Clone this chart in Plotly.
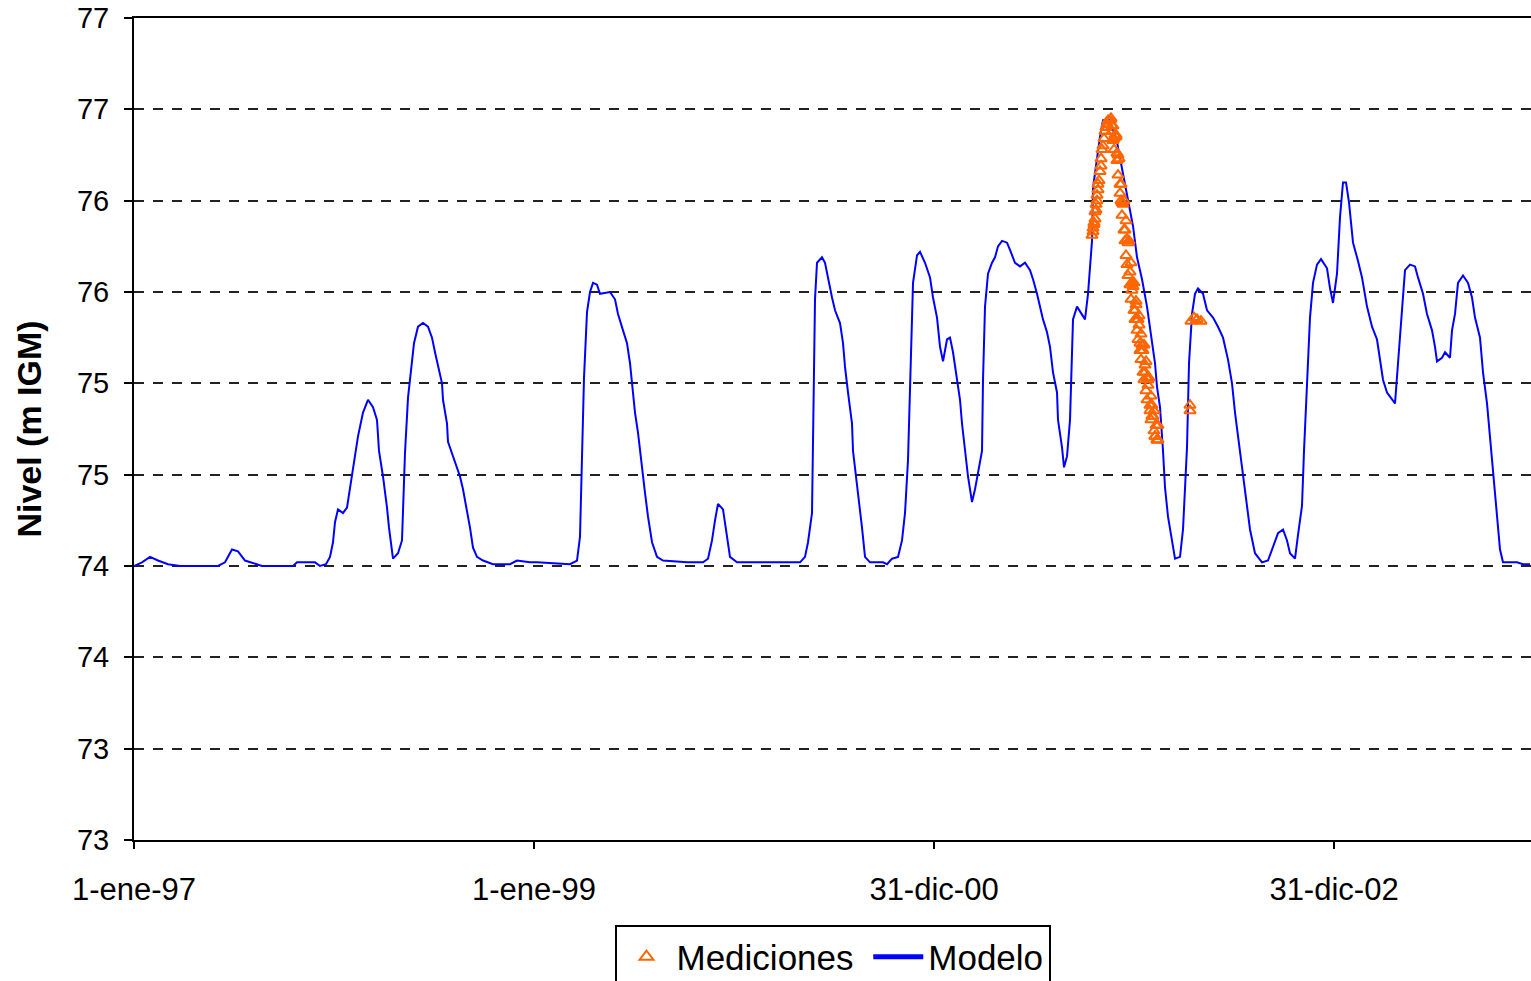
import datetime as dt
import plotly.graph_objects as go

# ---------------- data ----------------
START = dt.datetime(1997, 1, 1)

# Modelo: time in years (365-day years) since 1-ene-97, level in m IGM
model_t = [
    0.000, 0.04, 0.08, 0.12, 0.17, 0.23, 0.42, 0.455, 0.49, 0.52, 0.555, 0.605, 0.64, 0.795, 0.815,
    0.905, 0.93, 0.96, 0.98, 0.995, 1.005, 1.02, 1.045, 1.065, 1.08, 1.095, 1.12, 1.145, 1.17, 1.195,
    1.215, 1.225, 1.245, 1.265, 1.275, 1.295, 1.32, 1.34, 1.345, 1.355, 1.37, 1.39, 1.40, 1.42, 1.445,
    1.47, 1.49, 1.505, 1.52, 1.54, 1.545, 1.565, 1.57, 1.59, 1.615, 1.63, 1.645, 1.665, 1.68, 1.695,
    1.715, 1.745, 1.795, 1.88, 1.915, 1.98, 2.015, 2.18, 2.215, 2.23, 2.24, 2.25, 2.265, 2.28, 2.295,
    2.315, 2.33, 2.38, 2.405, 2.42, 2.445, 2.465, 2.48, 2.49, 2.505, 2.52, 2.54, 2.555, 2.57, 2.59,
    2.615, 2.645, 2.765, 2.845, 2.87, 2.89, 2.905, 2.92, 2.945, 2.965, 2.98, 3.015, 3.065, 3.33, 3.355,
    3.37, 3.39, 3.395, 3.405, 3.415, 3.44, 3.455, 3.47, 3.49, 3.505, 3.53, 3.545, 3.555, 3.57, 3.59,
    3.595, 3.615, 3.63, 3.64, 3.655, 3.68, 3.745, 3.765, 3.79, 3.82, 3.84, 3.855, 3.87, 3.885, 3.895,
    3.915, 3.93, 3.955, 3.98, 3.995, 4.015, 4.03, 4.045, 4.065, 4.08, 4.095, 4.115, 4.13, 4.14, 4.155,
    4.17, 4.19, 4.205, 4.22, 4.24, 4.245, 4.255, 4.27, 4.29, 4.305, 4.32, 4.34, 4.365, 4.38, 4.405,
    4.43, 4.455, 4.48, 4.495, 4.515, 4.53, 4.545, 4.565, 4.58, 4.595, 4.615, 4.62, 4.64, 4.65, 4.665,
    4.68, 4.69, 4.695, 4.715, 4.74, 4.755, 4.77, 4.79, 4.795, 4.815, 4.83, 4.845, 4.88, 4.915, 4.945,
    4.97, 4.995, 5.015, 5.04, 5.065, 5.08, 5.105, 5.115, 5.13, 5.145, 5.155, 5.17, 5.19, 5.205, 5.23,
    5.245, 5.265, 5.275, 5.29, 5.305, 5.32, 5.345, 5.365, 5.395, 5.42, 5.445, 5.47, 5.49, 5.505, 5.52,
    5.54, 5.565, 5.58, 5.605, 5.64, 5.67, 5.695, 5.72, 5.745, 5.765, 5.78, 5.805, 5.82, 5.84, 5.85,
    5.865, 5.88, 5.895, 5.915, 5.935, 5.965, 5.98, 5.995, 6.015, 6.03, 6.045, 6.06, 6.075, 6.095, 6.12,
    6.14, 6.165, 6.19, 6.215, 6.23, 6.245, 6.265, 6.305, 6.32, 6.34, 6.355, 6.38, 6.405, 6.42, 6.445,
    6.465, 6.49, 6.505, 6.515, 6.54, 6.555, 6.58, 6.59, 6.605, 6.62, 6.645, 6.67, 6.69, 6.705, 6.73,
    6.745, 6.765, 6.78, 6.795, 6.81, 6.82, 6.83, 6.845, 6.915, 6.945, 6.98,
]
model_level = [
    74.50, 74.52, 74.55, 74.53, 74.51, 74.50, 74.50, 74.52, 74.59, 74.58, 74.53, 74.51, 74.50, 74.50, 74.52,
    74.52, 74.50, 74.51, 74.55, 74.63, 74.74, 74.81, 74.79, 74.82, 74.92, 75.03, 75.21, 75.34, 75.41, 75.37,
    75.30, 75.13, 74.99, 74.82, 74.71, 74.54, 74.57, 74.64, 74.82, 75.12, 75.42, 75.63, 75.72, 75.81, 75.83,
    75.81, 75.75, 75.67, 75.59, 75.50, 75.41, 75.28, 75.18, 75.12, 75.04, 74.99, 74.92, 74.81, 74.71, 74.60,
    74.55, 74.53, 74.51, 74.51, 74.53, 74.52, 74.52, 74.51, 74.53, 74.66, 75.03, 75.53, 75.89, 76.00, 76.05,
    76.04, 75.99, 76.00, 75.96, 75.88, 75.79, 75.72, 75.61, 75.50, 75.34, 75.23, 75.06, 74.90, 74.77, 74.63,
    74.55, 74.53, 74.52, 74.52, 74.54, 74.64, 74.75, 74.84, 74.81, 74.66, 74.55, 74.52, 74.52, 74.52, 74.55,
    74.63, 74.79, 75.28, 75.96, 76.16, 76.19, 76.16, 76.07, 75.97, 75.90, 75.83, 75.72, 75.59, 75.45, 75.28,
    75.13, 74.95, 74.82, 74.71, 74.55, 74.52, 74.52, 74.51, 74.54, 74.55, 74.64, 74.79, 75.08, 75.62, 76.05,
    76.20, 76.22, 76.16, 76.08, 75.97, 75.86, 75.70, 75.62, 75.74, 75.75, 75.67, 75.53, 75.41, 75.28, 75.13,
    74.99, 74.85, 74.92, 75.01, 75.13, 75.52, 75.92, 76.10, 76.16, 76.19, 76.25, 76.28, 76.27, 76.23, 76.16,
    76.14, 76.16, 76.12, 76.07, 75.99, 75.92, 75.85, 75.78, 75.70, 75.56, 75.45, 75.30, 75.15, 75.04, 75.10,
    75.30, 75.61, 75.85, 75.92, 75.88, 75.85, 75.99, 76.28, 76.57, 76.74, 76.85, 76.94, 76.94, 76.82, 76.65,
    76.52, 76.36, 76.19, 76.07, 75.92, 75.81, 75.61, 75.48, 75.37, 75.13, 74.93, 74.77, 74.63, 74.54, 74.55,
    74.70, 75.15, 75.61, 75.88, 75.99, 76.02, 75.99, 75.90, 75.86, 75.81, 75.75, 75.63, 75.50, 75.34, 75.21,
    75.03, 74.84, 74.70, 74.57, 74.52, 74.53, 74.60, 74.68, 74.70, 74.64, 74.57, 74.54, 74.67, 74.83, 75.13,
    75.52, 75.86, 76.05, 76.15, 76.18, 76.13, 76.02, 75.94, 76.10, 76.41, 76.60, 76.60, 76.49, 76.27, 76.17,
    76.08, 75.92, 75.81, 75.74, 75.64, 75.52, 75.45, 75.39, 75.61, 75.90, 76.12, 76.15, 76.14, 76.08, 75.99,
    75.88, 75.79, 75.70, 75.62, 75.64, 75.67, 75.64, 75.79, 75.88, 76.05, 76.09, 76.05, 75.97, 75.86, 75.75,
    75.56, 75.39, 75.21, 75.03, 74.86, 74.71, 74.59, 74.52, 74.52, 74.51, 74.51,
]

# Mediciones (time in years since 1-ene-97, level in m IGM)
med_t = [
    # rising limb
    4.79, 4.795, 4.795, 4.80, 4.80, 4.805, 4.805, 4.81, 4.81, 4.815, 4.815, 4.82, 4.82, 4.825,
    4.83, 4.835, 4.835, 4.84, 4.845, 4.85, 4.855, 4.86, 4.865, 4.87,
    # falling limb
    4.880, 4.885, 4.890, 4.895, 4.900, 4.905, 4.910, 4.915, 4.920, 4.925,
    4.930, 4.935, 4.940, 4.945, 4.950, 4.955, 4.960, 4.965, 4.970, 4.975,
    4.980, 4.985, 4.990, 4.995, 5.000, 5.005, 5.010, 5.015, 5.020, 5.025,
    5.030, 5.035, 5.040, 5.045, 5.050, 5.055, 5.060, 5.065, 5.070, 5.075,
    5.080, 5.085, 5.090, 5.095, 5.100, 5.105, 5.110, 5.115, 5.120,
    4.88, 4.89, 4.895, 4.90, 4.91, 4.915, 4.92, 4.93, 4.935, 4.94,
    4.95, 4.955, 4.96, 4.965, 4.97, 4.98, 4.985, 4.99, 5.00, 5.005,
    5.01, 5.015, 5.02, 5.025, 5.03, 5.035, 5.04, 5.045, 5.05, 5.055,
    5.06, 5.065, 5.07, 5.08, 5.085, 5.09, 5.10, 5.105, 5.115, 5.12,
    # later measurements
    5.28, 5.28, 5.285, 5.30, 5.315, 5.335,
]
med_level = [
    76.31, 76.33, 76.35, 76.37, 76.38, 76.40, 76.44, 76.45, 76.48, 76.50, 76.53, 76.56, 76.59, 76.61,
    76.66, 76.69, 76.73, 76.78, 76.80, 76.84, 76.88, 76.90, 76.92, 76.94,
    76.94, 76.95, 76.88, 76.91, 76.84, 76.86, 76.85, 76.76, 76.75, 76.73,
    76.54, 76.59, 76.49, 76.48, 76.50, 76.34, 76.39, 76.29, 76.27, 76.28,
    76.11, 76.16, 76.05, 76.03, 76.05, 75.90, 75.95, 75.85, 75.85, 75.87,
    75.72, 75.77, 75.68, 75.68, 75.71, 75.56, 75.62, 75.53, 75.52, 75.53,
    75.38, 75.43, 75.32, 75.32, 75.35, 75.21, 75.27, 75.19, 75.19,
    76.94, 76.91, 76.83, 76.78, 76.86, 76.72, 76.64, 76.59, 76.50, 76.42,
    76.34, 76.28, 76.20, 76.15, 76.09, 76.04, 75.96, 76.01, 75.90, 75.85,
    75.93, 75.79, 75.74, 75.82, 75.68, 75.63, 75.71, 75.56, 75.52, 75.60,
    75.46, 75.41, 75.49, 75.35, 75.30, 75.38, 75.24, 75.21, 75.19, 75.27,
    75.35, 75.38, 75.84, 75.86, 75.85, 75.84,
]

y_tickvals = [73.0, 73.5, 74.0, 74.5, 75.0, 75.5, 76.0, 76.5, 77.0, 77.5]
y_ticktext = ["73", "73", "74", "74", "75", "75", "76", "76", "77", "77"]
x_tick_days = [0, 730, 1460, 2190]
x_ticktext = ["1-ene-97", "1-ene-99", "31-dic-00", "31-dic-02"]


def to_date(t):
    return START + dt.timedelta(days=t * 365)


model_x = [to_date(t) for t in model_t]
med_x = [to_date(t) for t in med_t]
x_tickvals = [START + dt.timedelta(days=d) for d in x_tick_days]
x_end = START + dt.timedelta(days=2549.5)

FONT = "Liberation Sans, Arial, sans-serif"

fig = go.Figure()
fig.add_trace(go.Scatter(
    x=model_x, y=model_level, mode="lines", name="Modelo",
    line=dict(color="#0000FF", width=2), legendrank=2,
))
fig.add_trace(go.Scatter(
    x=med_x, y=med_level, mode="markers", name="Mediciones\u00a0",
    marker=dict(symbol="triangle-up-open", size=10, color="#FF6600",
                line=dict(color="#FF6600", width=2)),
    legendrank=1,
))

fig.update_layout(
    width=1531, height=981,
    margin=dict(l=134, r=0, t=18, b=141, autoexpand=False),
    paper_bgcolor="white", plot_bgcolor="white",
    font=dict(family=FONT, color="#000000"),
    showlegend=True,
    legend=dict(
        orientation="h", x=0.5, xanchor="center", y=-0.104, yanchor="top",
        bordercolor="#000000", borderwidth=2, bgcolor="white",
        font=dict(size=35, family=FONT, color="#000000"),
        itemsizing="constant", itemwidth=50, tracegroupgap=0,
    ),
    xaxis=dict(
        type="date", range=[START, x_end],
        tickvals=x_tickvals, ticktext=x_ticktext,
        ticks="outside", ticklen=7, tickwidth=1.5, tickcolor="#000000",
        tickfont=dict(size=31, family=FONT, color="#000000"),
        ticklabelstandoff=14,
        showline=True, linecolor="#000000", linewidth=2, mirror=True,
        showgrid=False, zeroline=False,
    ),
    yaxis=dict(
        range=[73.0, 77.5],
        tickvals=y_tickvals, ticktext=y_ticktext,
        ticks="outside", ticklen=8, tickwidth=1.5, tickcolor="#000000",
        tickfont=dict(size=29, family=FONT, color="#000000"),
        ticklabelstandoff=9,
        showline=True, linecolor="#000000", linewidth=2,
        showgrid=True, gridcolor="#222222", gridwidth=2, griddash="10px,9px",
        zeroline=False,
        title=dict(text="<b>Nivel (m IGM)</b>", font=dict(size=34, family=FONT, color="#000000"),
                   standoff=25),
    ),
)

fig.write_html(
    "out.html",
    config={"displayModeBar": False},
    post_script=(
        "document.documentElement.style.margin='0';"
        "document.body.style.margin='0';"
        "document.body.style.overflow='hidden';"
    ),
)
